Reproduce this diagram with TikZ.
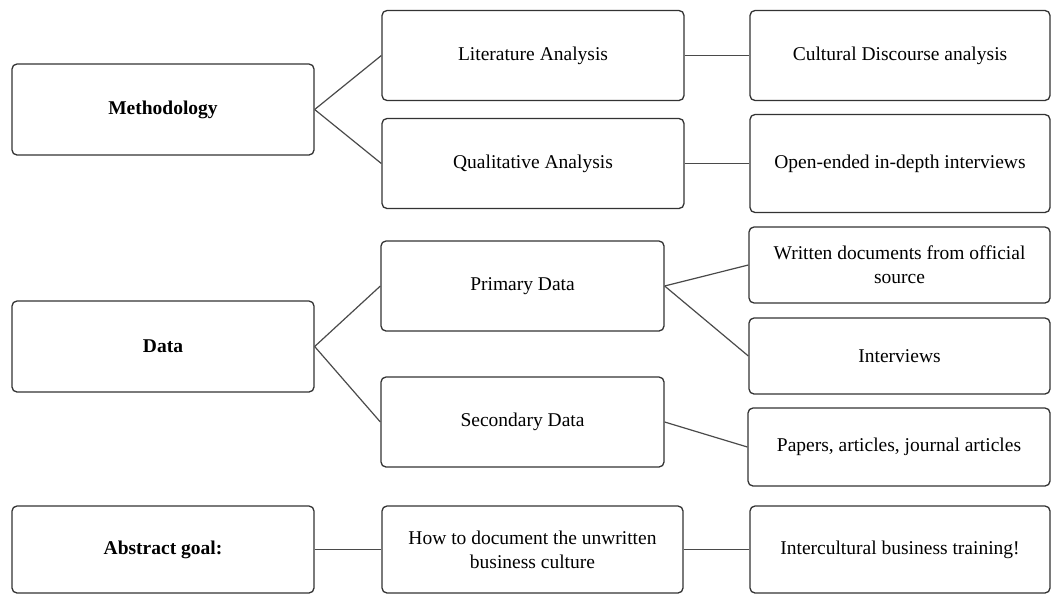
\documentclass[tikz,border=0pt]{standalone}
\usepackage{fontspec}
\setmainfont{Liberation Serif}
\definecolor{edge}{HTML}{333333}
\definecolor{wire}{HTML}{4A4A4A}
\begin{document}
\begin{tikzpicture}[x=1pt,y=-1pt,
  box/.style={draw=edge, line width=1.3pt, rounded corners=5pt, fill=white,
    inner sep=0pt, align=center, font=\fontsize{19.5}{24}\selectfont},
  headbox/.style={box, font=\fontsize{19.5}{24}\selectfont\bfseries},
  wirel/.style={draw=wire, line width=1.2pt}]
\useasboundingbox (0,0) rectangle (1051,595);
% left column: section headings
\node[headbox, minimum width=302pt, minimum height=91pt] (meth) at (163,109.5) {Methodology};
\node[headbox, minimum width=302pt, minimum height=91pt] (data) at (163,346.5) {Data};
\node[headbox, minimum width=302pt, minimum height=87pt] (goal) at (163,549.5) {Abstract goal:};
% middle column
\node[box, minimum width=302pt, minimum height=90pt] (lit) at (533,55.5) {Literature Analysis};
\node[box, minimum width=302pt, minimum height=90pt] (qual) at (533,163.5) {Qualitative Analysis};
\node[box, minimum width=283pt, minimum height=90pt] (prim) at (522.5,286) {Primary Data};
\node[box, minimum width=283pt, minimum height=90pt] (sec) at (522.5,422) {Secondary Data};
\node[box, minimum width=301pt, minimum height=87pt] (how) at (532.5,549.5) {How to document the unwritten\\business culture};
% right column
\node[box, minimum width=300pt, minimum height=90pt] (cult) at (900,55.5) {Cultural Discourse analysis};
\node[box, minimum width=300pt, minimum height=98pt] (open) at (900,163.5) {Open-ended in-depth interviews};
\node[box, minimum width=301pt, minimum height=76pt] (writ) at (899.5,265) {Written documents from official\\source};
\node[box, minimum width=301pt, minimum height=76pt] (intv) at (899.5,356) {Interviews};
\node[box, minimum width=302pt, minimum height=78pt] (pap) at (899,447) {Papers, articles, journal articles};
\node[box, minimum width=300pt, minimum height=87pt] (inter) at (900,549.5) {Intercultural business training!};
% connectors
\draw[wirel] (meth.east) -- (lit.west);
\draw[wirel] (meth.east) -- (qual.west);
\draw[wirel] (lit.east) -- (cult.west);
\draw[wirel] (qual.east) -- (open.west);
\draw[wirel] (data.east) -- (prim.west);
\draw[wirel] (data.east) -- (sec.west);
\draw[wirel] (prim.east) -- (writ.west);
\draw[wirel] (prim.east) -- (intv.west);
\draw[wirel] (sec.east) -- (pap.west);
\draw[wirel] (goal.east) -- (how.west);
\draw[wirel] (how.east) -- (inter.west);
\end{tikzpicture}
\end{document}
